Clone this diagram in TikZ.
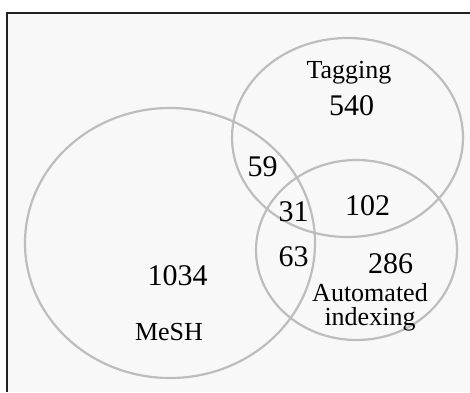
\documentclass[tikz,border=0pt]{standalone}
\usepackage{fontspec}
\setmainfont{Liberation Serif}
\definecolor{bgpanel}{HTML}{F8F8F8}
\definecolor{ringgray}{HTML}{BDBDBD}
\definecolor{framedark}{HTML}{222222}
\begin{document}
\begin{tikzpicture}[x=1pt,y=-1pt,
  ring/.style={draw=ringgray,line width=2.2pt},
  num/.style={anchor=base,inner sep=0pt,font=\fontsize{30}{30}\selectfont},
  lbl/.style={anchor=base,inner sep=0pt,font=\fontsize{26}{26}\selectfont}]
\useasboundingbox (0,0) rectangle (470,392);
\fill[white] (0,0) rectangle (470,392);
\fill[bgpanel] (7,13) rectangle (470,392);
\draw[framedark,line width=1.7pt] (7,392) -- (7,13) -- (470,13);
% circles
\draw[ring] (170,243) ellipse [x radius=145, y radius=135];
\draw[ring] (347.5,137.5) ellipse [x radius=115.5, y radius=99.5];
\draw[ring] (356.5,250) ellipse [x radius=100.5, y radius=90];
% labels
\node[lbl] (tag) at (349,78) {Tagging};
\node[lbl] (mesh) at (169,340) {MeSH};
\node[lbl] (auto1) at (370,301.5) {Automated};
\node[lbl] (auto2) at (370,325) {indexing};
% numbers
\node[num] (n540) at (351.5,115) {540};
\node[num] (n59) at (262.5,176.5) {59};
\node[num] (n31) at (293.5,221.5) {31};
\node[num] (n102) at (367.5,215) {102};
\node[num] (n63) at (293.5,266.5) {63};
\node[num] (n286) at (390.5,273.5) {286};
\node[num] (n1034) at (177.5,285) {1034};
\end{tikzpicture}
\end{document}
